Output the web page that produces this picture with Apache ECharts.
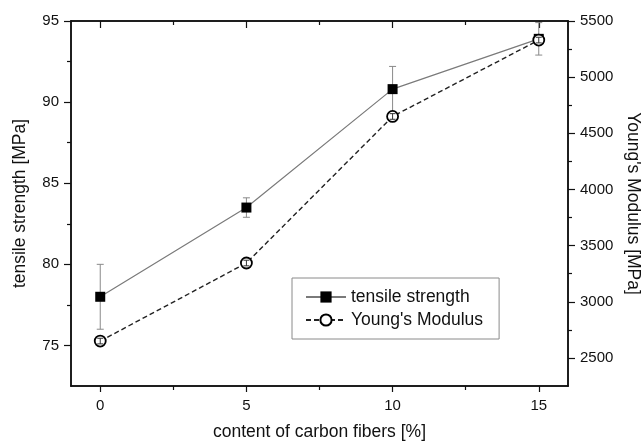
<!DOCTYPE html>
<html>
<head>
<meta charset="utf-8">
<script src="https://cdn.jsdelivr.net/npm/echarts@6/dist/echarts.min.js"></script>
<style>
    html, body { margin: 0; padding: 0; background: #fff; }
    #chart { width: 641px; height: 442px; }
</style>
</head>
<body>
<div id="chart"></div>
<script>
var fibers = [0, 5, 10, 15];
var tensile = [78.0, 83.5, 90.8, 93.9];
var tensileErr = [2.0, 0.6, 1.4, 1.0];
var modulus = [2650, 3345, 4650, 5330];
var modulusErr = [25, 25, 25, 25];

var xTicks = [0, 5, 10, 15];
var xMinorTicks = [2.5, 7.5, 12.5];
var strengthTicks = [75, 80, 85, 90, 95];
var strengthMinorTicks = [77.5, 82.5, 87.5, 92.5];
var modulusTicks = [2500, 3000, 3500, 4000, 4500, 5000, 5500];
var modulusMinorTicks = [2750, 3250, 3750, 4250, 4750, 5250];

var font = 'Liberation Sans, Arial, sans-serif';
var ink = '#111';
var titleStyle = { color: ink, fontFamily: font, fontSize: 17.5 };

function errorBars(color, capHalf) {
    return function (params, api) {
        var x = api.value(0);
        var lo = api.coord([x, api.value(1)]);
        var hi = api.coord([x, api.value(2)]);
        var style = { stroke: color, lineWidth: 1 };
        return {
            type: 'group',
            children: [
                { type: 'line', shape: { x1: lo[0], y1: lo[1], x2: hi[0], y2: hi[1] }, style: style },
                { type: 'line', shape: { x1: hi[0] - capHalf, y1: hi[1], x2: hi[0] + capHalf, y2: hi[1] }, style: style },
                { type: 'line', shape: { x1: lo[0] - capHalf, y1: lo[1], x2: lo[0] + capHalf, y2: lo[1] }, style: style }
            ]
        };
    };
}

function tickLabels(values) {
    if (!values) {
        return { show: false };
    }
    return {
        show: true, customValues: values, margin: 12, color: ink, fontFamily: font, fontSize: 15,
        formatter: function (v) { return String(v); }
    };
}

function xAxisDef(position, ticks, len, inside, labels) {
    return {
        type: 'value', position: position, min: -1, max: 16,
        axisLine: { show: true, onZero: false, lineStyle: { color: ink, width: 1.5 } },
        axisTick: { show: true, inside: inside, length: len, customValues: ticks, lineStyle: { color: ink, width: 1.2 } },
        axisLabel: tickLabels(labels),
        splitLine: { show: false }
    };
}

function yAxisDef(position, min, max, ticks, len, labels) {
    return {
        type: 'value', position: position, min: min, max: max,
        axisLine: { show: true, onZero: false, lineStyle: { color: ink, width: 1.5 } },
        axisTick: { show: true, inside: false, length: len, customValues: ticks, lineStyle: { color: ink, width: 1.2 } },
        axisLabel: tickLabels(labels),
        splitLine: { show: false }
    };
}

var tensileBars = fibers.map(function (x, i) {
    return [x, tensile[i] - tensileErr[i], tensile[i] + tensileErr[i]];
});
var modulusBars = fibers.map(function (x, i) {
    return [x, modulus[i] - modulusErr[i], modulus[i] + modulusErr[i]];
});

var xBottom = xAxisDef('bottom', xTicks, 6, false, xTicks);
xBottom.name = 'content of carbon fibers [%]';
xBottom.nameLocation = 'middle';
xBottom.nameGap = 37;
xBottom.nameTextStyle = titleStyle;

var yLeft = yAxisDef('left', 72.5, 95, strengthTicks, 7, strengthTicks);
yLeft.name = 'tensile strength [MPa]';
yLeft.nameLocation = 'middle';
yLeft.nameGap = 42;
yLeft.nameTextStyle = titleStyle;

var yRight = yAxisDef('right', 2250, 5500, modulusTicks, 7, modulusTicks);
yRight.name = "Young's Modulus [MPa]";
yRight.nameLocation = 'middle';
yRight.nameRotate = -90;
yRight.nameGap = 54;
yRight.nameTextStyle = titleStyle;

var chart = echarts.init(document.getElementById('chart'), null, { renderer: 'canvas' });

chart.setOption({
    animation: false,
    backgroundColor: '#fff',
    grid: { left: 71, right: 73, top: 21, bottom: 56, outerBoundsMode: 'none', containLabel: false },
    xAxis: [
        xBottom,
        xAxisDef('bottom', xMinorTicks, 4, false, null),
        xAxisDef('top', xTicks, 7, true, null),
        xAxisDef('top', xMinorTicks, 4, true, null)
    ],
    yAxis: [
        yLeft,
        yAxisDef('left', 72.5, 95, strengthMinorTicks, 4, null),
        yRight,
        yAxisDef('right', 2250, 5500, modulusMinorTicks, 4, null)
    ],
    legend: {
        orient: 'vertical',
        left: 292,
        top: 278,
        padding: [10, 16, 10, 13],
        itemGap: 5,
        itemWidth: 40,
        itemHeight: 14,
        borderColor: '#8a8a8a',
        borderWidth: 1,
        backgroundColor: '#fff',
        textStyle: { color: ink, fontFamily: font, fontSize: 17.5, lineHeight: 18 },
        data: ['tensile strength', "Young's Modulus"]
    },
    series: [
        {
            name: 'tensile strength',
            type: 'line',
            xAxisIndex: 0,
            yAxisIndex: 0,
            data: fibers.map(function (x, i) { return [x, tensile[i]]; }),
            symbol: 'rect',
            symbolSize: 10,
            itemStyle: { color: '#000' },
            lineStyle: { color: '#7a7a7a', width: 1.2 },
            z: 3
        },
        {
            type: 'custom',
            xAxisIndex: 0,
            yAxisIndex: 0,
            renderItem: errorBars('#8a8a8a', 3.5),
            encode: { x: 0, y: [1, 2] },
            data: tensileBars,
            z: 2
        },
        {
            name: "Young's Modulus",
            type: 'line',
            xAxisIndex: 0,
            yAxisIndex: 2,
            data: fibers.map(function (x, i) { return [x, modulus[i]]; }),
            symbol: 'circle',
            symbolSize: 11,
            itemStyle: { color: '#fff', borderColor: '#000', borderWidth: 1.8 },
            lineStyle: { color: '#222', width: 1.4, type: [5, 3] },
            z: 4
        },
        {
            type: 'custom',
            xAxisIndex: 0,
            yAxisIndex: 2,
            renderItem: errorBars('#333', 3),
            encode: { x: 0, y: [1, 2] },
            data: modulusBars,
            z: 5
        }
    ]
});
</script>
</body>
</html>
